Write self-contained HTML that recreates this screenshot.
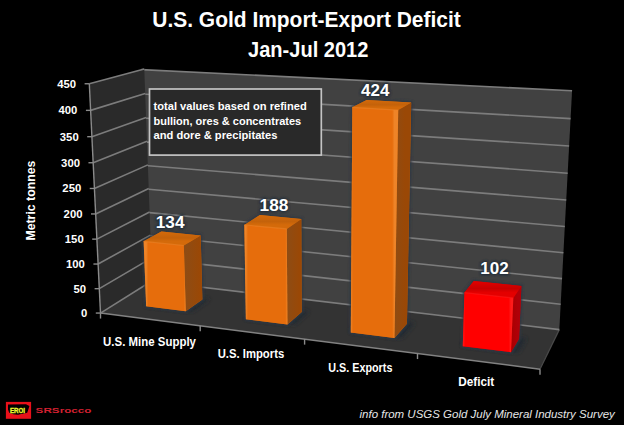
<!DOCTYPE html>
<html><head><meta charset="utf-8"><style>
html,body{margin:0;padding:0;background:#000;}
svg{display:block;}
text{font-family:"Liberation Sans",sans-serif;}
</style></head><body>
<svg width="624" height="425" viewBox="0 0 624 425">
<defs>
<filter id="blur1" x="-20%" y="-20%" width="140%" height="140%"><feGaussianBlur stdDeviation="1.2"/></filter>
<filter id="blur2" x="-20%" y="-20%" width="140%" height="140%"><feGaussianBlur stdDeviation="2"/></filter>
<linearGradient id="sg0" gradientUnits="userSpaceOnUse" x1="185.8" y1="0" x2="202.3" y2="0"><stop offset="0" stop-color="#8e4c14"/><stop offset="0.85" stop-color="#9a4806"/><stop offset="1" stop-color="#9a4806"/></linearGradient>
<linearGradient id="tg0" gradientUnits="userSpaceOnUse" x1="0" y1="241.3" x2="0" y2="231.5"><stop offset="0" stop-color="#d46a0a"/><stop offset="0.35" stop-color="#c4620a"/><stop offset="1" stop-color="#d46a0a"/></linearGradient>
<linearGradient id="fg0" gradientUnits="userSpaceOnUse" x1="146.2" y1="0" x2="185.8" y2="0"><stop offset="0" stop-color="#ee8428"/><stop offset="0.05" stop-color="#e66d0c"/><stop offset="0.95" stop-color="#e66d0c"/><stop offset="1" stop-color="#ee8428"/></linearGradient>
<linearGradient id="sg1" gradientUnits="userSpaceOnUse" x1="287.4" y1="0" x2="301.7" y2="0"><stop offset="0" stop-color="#8e4c14"/><stop offset="0.85" stop-color="#9a4806"/><stop offset="1" stop-color="#9a4806"/></linearGradient>
<linearGradient id="tg1" gradientUnits="userSpaceOnUse" x1="0" y1="224.9" x2="0" y2="215.1"><stop offset="0" stop-color="#d46a0a"/><stop offset="0.35" stop-color="#c4620a"/><stop offset="1" stop-color="#d46a0a"/></linearGradient>
<linearGradient id="fg1" gradientUnits="userSpaceOnUse" x1="245.9" y1="0" x2="287.4" y2="0"><stop offset="0" stop-color="#ee8428"/><stop offset="0.05" stop-color="#e66d0c"/><stop offset="0.95" stop-color="#e66d0c"/><stop offset="1" stop-color="#ee8428"/></linearGradient>
<linearGradient id="sg2" gradientUnits="userSpaceOnUse" x1="394.4" y1="0" x2="406.9" y2="0"><stop offset="0" stop-color="#8e4c14"/><stop offset="0.85" stop-color="#9a4806"/><stop offset="1" stop-color="#9a4806"/></linearGradient>
<linearGradient id="tg2" gradientUnits="userSpaceOnUse" x1="0" y1="107.3" x2="0" y2="99.9"><stop offset="0" stop-color="#d46a0a"/><stop offset="0.35" stop-color="#c4620a"/><stop offset="1" stop-color="#d46a0a"/></linearGradient>
<linearGradient id="fg2" gradientUnits="userSpaceOnUse" x1="350.8" y1="0" x2="394.4" y2="0"><stop offset="0" stop-color="#ee8428"/><stop offset="0.05" stop-color="#e66d0c"/><stop offset="0.95" stop-color="#e66d0c"/><stop offset="1" stop-color="#ee8428"/></linearGradient>
<linearGradient id="sg3" gradientUnits="userSpaceOnUse" x1="511.0" y1="0" x2="519.0" y2="0"><stop offset="0" stop-color="#a80000"/><stop offset="0.85" stop-color="#b00008"/><stop offset="1" stop-color="#b00008"/></linearGradient>
<linearGradient id="tg3" gradientUnits="userSpaceOnUse" x1="0" y1="292.6" x2="0" y2="281.0"><stop offset="0" stop-color="#e40000"/><stop offset="0.35" stop-color="#c80000"/><stop offset="1" stop-color="#e40000"/></linearGradient>
<linearGradient id="fg3" gradientUnits="userSpaceOnUse" x1="462.8" y1="0" x2="511.0" y2="0"><stop offset="0" stop-color="#ff1a1a"/><stop offset="0.05" stop-color="#ff0000"/><stop offset="0.95" stop-color="#ff0000"/><stop offset="1" stop-color="#ff1a1a"/></linearGradient>
</defs>
<rect width="624" height="425" fill="#000"/>
<polygon points="149.43,280.99 141.38,69.63 572.07,90.80 559.32,329.63" fill="#414141" />
<polygon points="100.50,313.06 149.43,280.99 559.32,329.63 540.00,369.20" fill="#333333" />
<line x1="559.32" y1="329.63" x2="540.00" y2="369.20" stroke="#4a4a4a" stroke-width="1.2" />
<line x1="149.43" y1="280.99" x2="559.32" y2="329.63" stroke="#7c7c7c" stroke-width="1.6" />
<line x1="148.57" y1="258.35" x2="560.67" y2="304.29" stroke="#7c7c7c" stroke-width="1.6" />
<line x1="147.71" y1="235.48" x2="562.04" y2="278.67" stroke="#7c7c7c" stroke-width="1.6" />
<line x1="146.83" y1="212.38" x2="563.42" y2="252.75" stroke="#7c7c7c" stroke-width="1.6" />
<line x1="145.94" y1="189.04" x2="564.82" y2="226.53" stroke="#7c7c7c" stroke-width="1.6" />
<line x1="145.05" y1="165.45" x2="566.24" y2="200.01" stroke="#7c7c7c" stroke-width="1.6" />
<line x1="144.14" y1="141.88" x2="567.67" y2="173.19" stroke="#7c7c7c" stroke-width="1.6" />
<line x1="143.23" y1="118.05" x2="569.12" y2="146.04" stroke="#7c7c7c" stroke-width="1.6" />
<line x1="142.31" y1="93.97" x2="570.58" y2="118.58" stroke="#7c7c7c" stroke-width="1.6" />
<line x1="141.38" y1="69.63" x2="572.07" y2="90.80" stroke="#7c7c7c" stroke-width="1.6" />
<polygon points="100.50,313.06 89.31,83.75 144.26,69.09 152.15,280.79" fill="#2a2a2a" />
<line x1="100.50" y1="313.06" x2="152.15" y2="280.79" stroke="#7c7c7c" stroke-width="1.6" />
<line x1="99.31" y1="288.68" x2="151.31" y2="258.08" stroke="#7c7c7c" stroke-width="1.6" />
<line x1="98.11" y1="264.04" x2="150.46" y2="235.13" stroke="#7c7c7c" stroke-width="1.6" />
<line x1="96.89" y1="239.13" x2="149.60" y2="211.95" stroke="#7c7c7c" stroke-width="1.6" />
<line x1="95.66" y1="213.95" x2="148.73" y2="188.54" stroke="#7c7c7c" stroke-width="1.6" />
<line x1="94.42" y1="188.48" x2="147.85" y2="164.88" stroke="#7c7c7c" stroke-width="1.6" />
<line x1="93.16" y1="162.74" x2="146.97" y2="141.31" stroke="#7c7c7c" stroke-width="1.6" />
<line x1="91.89" y1="136.70" x2="146.07" y2="117.49" stroke="#7c7c7c" stroke-width="1.6" />
<line x1="90.61" y1="110.37" x2="145.17" y2="93.42" stroke="#7c7c7c" stroke-width="1.6" />
<line x1="89.31" y1="83.75" x2="144.26" y2="69.09" stroke="#7c7c7c" stroke-width="1.6" />
<line x1="100.50" y1="313.06" x2="89.31" y2="83.75" stroke="#8a8a8a" stroke-width="1.4" />
<line x1="95.80" y1="313.06" x2="100.50" y2="313.06" stroke="#8a8a8a" stroke-width="1.4" />
<line x1="94.61" y1="288.68" x2="99.31" y2="288.68" stroke="#8a8a8a" stroke-width="1.4" />
<line x1="93.41" y1="264.04" x2="98.11" y2="264.04" stroke="#8a8a8a" stroke-width="1.4" />
<line x1="92.19" y1="239.13" x2="96.89" y2="239.13" stroke="#8a8a8a" stroke-width="1.4" />
<line x1="90.96" y1="213.95" x2="95.66" y2="213.95" stroke="#8a8a8a" stroke-width="1.4" />
<line x1="89.72" y1="188.48" x2="94.42" y2="188.48" stroke="#8a8a8a" stroke-width="1.4" />
<line x1="88.46" y1="162.74" x2="93.16" y2="162.74" stroke="#8a8a8a" stroke-width="1.4" />
<line x1="87.19" y1="136.70" x2="91.89" y2="136.70" stroke="#8a8a8a" stroke-width="1.4" />
<line x1="85.91" y1="110.37" x2="90.61" y2="110.37" stroke="#8a8a8a" stroke-width="1.4" />
<line x1="84.61" y1="83.75" x2="89.31" y2="83.75" stroke="#8a8a8a" stroke-width="1.4" />
<line x1="100.50" y1="313.06" x2="540.00" y2="369.20" stroke="#828282" stroke-width="1.5" />
<line x1="100.50" y1="313.06" x2="100.50" y2="318.56" stroke="#8a8a8a" stroke-width="1.4" />
<line x1="200.20" y1="325.79" x2="200.20" y2="331.29" stroke="#8a8a8a" stroke-width="1.4" />
<line x1="304.60" y1="339.13" x2="304.60" y2="344.63" stroke="#8a8a8a" stroke-width="1.4" />
<line x1="417.50" y1="353.55" x2="417.50" y2="359.05" stroke="#8a8a8a" stroke-width="1.4" />
<line x1="540.00" y1="369.20" x2="540.00" y2="374.70" stroke="#8a8a8a" stroke-width="1.4" />
<polygon points="145.21,305.48 192.64,311.27 209.89,298.91 163.56,293.45" fill="#232a33" filter="url(#blur2)"/>
<polygon points="146.17,306.36 143.66,241.34 161.42,231.47 200.68,235.38 202.35,299.45 185.78,311.20" fill="#2e3844" stroke="#2e3844" stroke-width="3" filter="url(#blur1)" opacity="0.9"/>
<polygon points="146.17,306.36 143.66,241.34 161.42,231.47 200.68,235.38 202.35,299.45 185.78,311.20" fill="#c4620a" />
<polygon points="185.78,311.20 183.82,245.48 200.68,235.38 202.35,299.45" fill="url(#sg0)" />
<polygon points="146.17,306.36 143.66,241.34 183.82,245.48 185.78,311.20" fill="url(#fg0)" />
<polygon points="143.66,241.34 161.42,231.47 200.68,235.38 183.82,245.48" fill="url(#tg0)" />
<line x1="143.66" y1="241.34" x2="183.82" y2="245.48" stroke="#ee8428" stroke-width="1.2" opacity="0.6"/>
<polygon points="244.68,318.40 294.55,324.49 309.33,311.36 260.70,305.62" fill="#232a33" filter="url(#blur2)"/>
<polygon points="245.88,319.32 244.32,224.90 259.90,215.12 301.30,218.93 301.68,311.94 287.45,324.41" fill="#2e3844" stroke="#2e3844" stroke-width="3" filter="url(#blur1)" opacity="0.9"/>
<polygon points="245.88,319.32 244.32,224.90 259.90,215.12 301.30,218.93 301.68,311.94 287.45,324.41" fill="#c4620a" />
<polygon points="287.45,324.41 286.75,228.93 301.30,218.93 301.68,311.94" fill="url(#sg1)" />
<polygon points="245.88,319.32 244.32,224.90 286.75,228.93 287.45,324.41" fill="url(#fg1)" />
<polygon points="244.32,224.90 259.90,215.12 301.30,218.93 286.75,228.93" fill="url(#tg1)" />
<line x1="244.32" y1="224.90" x2="286.75" y2="228.93" stroke="#ee8428" stroke-width="1.2" opacity="0.6"/>
<polygon points="349.33,331.59 401.79,338.01 414.65,323.02 363.70,317.02" fill="#232a33" filter="url(#blur2)"/>
<polygon points="350.81,332.58 352.35,107.32 366.66,99.94 411.20,102.48 406.93,323.63 394.43,337.92" fill="#2e3844" stroke="#2e3844" stroke-width="3" filter="url(#blur1)" opacity="0.9"/>
<polygon points="350.81,332.58 352.35,107.32 366.66,99.94 411.20,102.48 406.93,323.63 394.43,337.92" fill="#c4620a" />
<polygon points="394.43,337.92 398.22,110.04 411.20,102.48 406.93,323.63" fill="url(#sg2)" />
<polygon points="350.81,332.58 352.35,107.32 398.22,110.04 394.43,337.92" fill="url(#fg2)" />
<polygon points="352.35,107.32 366.66,99.94 411.20,102.48 398.22,110.04" fill="url(#tg2)" />
<line x1="352.35" y1="107.32" x2="398.22" y2="110.04" stroke="#ee8428" stroke-width="1.2" opacity="0.6"/>
<polygon points="461.01,345.25 518.62,352.30 526.87,338.21 470.83,331.58" fill="#232a33" filter="url(#blur2)"/>
<polygon points="462.78,346.30 464.49,292.61 473.83,280.95 521.38,285.92 519.03,338.86 510.99,352.21" fill="#2e3844" stroke="#2e3844" stroke-width="3" filter="url(#blur1)" opacity="0.9"/>
<polygon points="462.78,346.30 464.49,292.61 473.83,280.95 521.38,285.92 519.03,338.86 510.99,352.21" fill="#c80000" />
<polygon points="510.99,352.21 513.32,297.88 521.38,285.92 519.03,338.86" fill="url(#sg3)" />
<polygon points="462.78,346.30 464.49,292.61 513.32,297.88 510.99,352.21" fill="url(#fg3)" />
<polygon points="464.49,292.61 473.83,280.95 521.38,285.92 513.32,297.88" fill="url(#tg3)" />
<line x1="464.49" y1="292.61" x2="513.32" y2="297.88" stroke="#ff1a1a" stroke-width="1.2" opacity="0.6"/>
<rect x="149.5" y="89" width="171.8" height="66.1" fill="#292929" stroke="#c4c4c4" stroke-width="1.7"/>
<g fill="#fff" font-weight="bold">
<text x="152.3" y="27.4" font-size="21.5" textLength="308.4" lengthAdjust="spacingAndGlyphs">U.S. Gold Import-Export Deficit</text>
<text x="248" y="57" font-size="21.5" textLength="120.4" lengthAdjust="spacingAndGlyphs">Jan-Jul 2012</text>
<text x="153.5" y="110" font-size="11.8" textLength="153.2" lengthAdjust="spacingAndGlyphs">total values based on refined</text>
<text x="153.5" y="124.8" font-size="11.8" textLength="147.7" lengthAdjust="spacingAndGlyphs">bullion, ores &amp; concentrates</text>
<text x="153.5" y="139.2" font-size="11.8" textLength="124" lengthAdjust="spacingAndGlyphs">and dore &amp; precipitates</text>
<text x="87.30" y="317.06" font-size="11.3" text-anchor="end">0</text>
<text x="86.11" y="292.68" font-size="11.3" text-anchor="end">50</text>
<text x="84.91" y="268.04" font-size="11.3" text-anchor="end">100</text>
<text x="83.69" y="243.13" font-size="11.3" text-anchor="end">150</text>
<text x="82.46" y="217.95" font-size="11.3" text-anchor="end">200</text>
<text x="81.22" y="192.48" font-size="11.3" text-anchor="end">250</text>
<text x="79.96" y="166.74" font-size="11.3" text-anchor="end">300</text>
<text x="78.69" y="140.70" font-size="11.3" text-anchor="end">350</text>
<text x="77.41" y="114.37" font-size="11.3" text-anchor="end">400</text>
<text x="76.11" y="87.75" font-size="11.3" text-anchor="end">450</text>
<text transform="translate(35.3,240.6) rotate(-90)" font-size="12.3" textLength="80" lengthAdjust="spacingAndGlyphs">Metric tonnes</text>
<text x="103.1" y="346.3" font-size="11.9" textLength="92.9" lengthAdjust="spacingAndGlyphs">U.S. Mine Supply</text>
<text x="217.7" y="357.7" font-size="11.9" textLength="66.5" lengthAdjust="spacingAndGlyphs">U.S. Imports</text>
<text x="328.3" y="372.1" font-size="11.9" textLength="64.1" lengthAdjust="spacingAndGlyphs">U.S. Exports</text>
<text x="458.2" y="385.7" font-size="11.9" textLength="36" lengthAdjust="spacingAndGlyphs">Deficit</text>
<g fill="#1e2a38" stroke="#1e2a38" stroke-width="2.5" filter="url(#blur1)" opacity="0.85">
<text x="155.8" y="228.1" font-size="17" textLength="28.7" lengthAdjust="spacingAndGlyphs">134</text>
<text x="259.6" y="211" font-size="17" textLength="28.8" lengthAdjust="spacingAndGlyphs">188</text>
<text x="361.1" y="95.7" font-size="17" textLength="28.3" lengthAdjust="spacingAndGlyphs">424</text>
<text x="480.3" y="273.75" font-size="17" textLength="28.4" lengthAdjust="spacingAndGlyphs">102</text>
</g>
<text x="155.8" y="228.1" font-size="17" textLength="28.7" lengthAdjust="spacingAndGlyphs">134</text>
<text x="259.6" y="211" font-size="17" textLength="28.8" lengthAdjust="spacingAndGlyphs">188</text>
<text x="361.1" y="95.7" font-size="17" textLength="28.3" lengthAdjust="spacingAndGlyphs">424</text>
<text x="480.3" y="273.75" font-size="17" textLength="28.4" lengthAdjust="spacingAndGlyphs">102</text>
</g>
<text x="359.5" y="418" font-size="11" font-style="italic" fill="#e6e6e6" textLength="255.3" lengthAdjust="spacingAndGlyphs">info from  USGS Gold July Mineral Industry Survey</text>
<rect x="5.9" y="401.9" width="25.2" height="16.9" fill="#e8101a"/>
<path d="M8,404.5 L26,404.2 L29.4,406 L28.5,409 L27.2,412.8 L24.2,413.6 L21,414 L18.1,414.8 L13.4,414.2 L9.2,412.7 L8,409.4 Z" fill="#000"/>
<text x="9.9" y="412.8" font-size="6.6" font-weight="bold" fill="#f0f830" stroke="#f0f830" stroke-width="0.3" textLength="15" lengthAdjust="spacingAndGlyphs">EROI</text>
<text x="35.6" y="413.3" font-size="7.8" font-weight="bold" fill="#d42030" textLength="55.9" lengthAdjust="spacingAndGlyphs">SRSrocco</text>
</svg>
</body></html>
